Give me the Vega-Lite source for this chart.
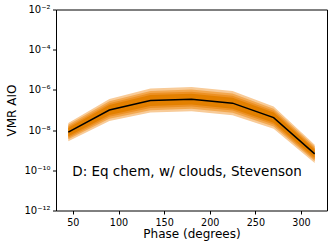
{
  "$schema": "https://vega.github.io/schema/vega-lite/v6.json",
  "width": 271,
  "height": 201,
  "autosize": {"type": "none"},
  "padding": {"left": 56, "top": 9.5, "right": 5, "bottom": 36.5},
  "config": {
    "font": "DejaVu Sans",
    "view": {"stroke": "#000", "strokeWidth": 1},
    "axis": {"grid": false, "domain": false, "tickColor": "#000", "labelColor": "#000", "titleColor": "#000", "titleFontWeight": "normal"}
  },
  "datasets": {
    "bands": [
      {"phase": 45, "median": 7.94e-9, "lo1": 2.82e-9, "hi1": 2.24e-8, "lo2": 3.47e-9, "hi2": 1.82e-8, "lo3": 4.17e-9, "hi3": 1.51e-8, "lo4": 5.01e-9, "hi4": 1.26e-8},
      {"phase": 90, "median": 1.0e-7, "lo1": 2.82e-8, "hi1": 3.55e-7, "lo2": 3.63e-8, "hi2": 2.75e-7, "lo3": 4.57e-8, "hi3": 2.19e-7, "lo4": 5.62e-8, "hi4": 1.78e-7},
      {"phase": 135, "median": 2.95e-7, "lo1": 7.41e-8, "hi1": 1.17e-6, "lo2": 9.77e-8, "hi2": 8.91e-7, "lo3": 1.26e-7, "hi3": 6.92e-7, "lo4": 1.58e-7, "hi4": 5.50e-7},
      {"phase": 180, "median": 3.47e-7, "lo1": 8.71e-8, "hi1": 1.38e-6, "lo2": 1.15e-7, "hi2": 1.05e-6, "lo3": 1.48e-7, "hi3": 8.13e-7, "lo4": 1.86e-7, "hi4": 6.46e-7},
      {"phase": 225, "median": 2.19e-7, "lo1": 5.50e-8, "hi1": 8.71e-7, "lo2": 7.24e-8, "hi2": 6.61e-7, "lo3": 9.33e-8, "hi3": 5.13e-7, "lo4": 1.17e-7, "hi4": 4.07e-7},
      {"phase": 270, "median": 4.17e-8, "lo1": 1.17e-8, "hi1": 1.48e-7, "lo2": 1.51e-8, "hi2": 1.15e-7, "lo3": 1.91e-8, "hi3": 9.12e-8, "lo4": 2.34e-8, "hi4": 7.41e-8},
      {"phase": 315, "median": 6.61e-10, "lo1": 2.34e-10, "hi1": 1.86e-9, "lo2": 2.88e-10, "hi2": 1.51e-9, "lo3": 3.47e-10, "hi3": 1.26e-9, "lo4": 4.17e-10, "hi4": 1.05e-9}
    ],
    "note": [
      {"phase": 49.3, "value": 8.1e-11, "label": "D: Eq chem, w/ clouds, Stevenson"}
    ]
  },
  "data": {"name": "bands"},
  "encoding": {
    "x": {
      "field": "phase", "type": "quantitative",
      "scale": {"domain": [31.5, 328.5], "nice": false, "zero": false},
      "axis": {"values": [50, 100, 150, 200, 250, 300], "title": "Phase (degrees)", "titleFontSize": 12, "labelFontSize": 9.6, "tickSize": 3.5, "labelBaseline": "alphabetic", "labelPadding": 11.5, "titleBaseline": "alphabetic", "titleY": 26.5, "labelFlush": false}
    }
  },
  "layer": [
    {
      "mark": {"type": "area", "color": "#f8cb98", "opacity": 1},
      "encoding": {
        "y": {"field": "lo1", "type": "quantitative", "scale": {"type": "log", "domain": [1e-12, 1e-2], "nice": false},
          "axis": {"values": [1e-12, 1e-10, 1e-8, 1e-6, 1e-4, 1e-2], "labelExpr": "round(log(datum.value)/LN10) == -12 ? '10⁻¹²' : round(log(datum.value)/LN10) == -10 ? '10⁻¹⁰' : round(log(datum.value)/LN10) == -8 ? '10⁻⁸' : round(log(datum.value)/LN10) == -6 ? '10⁻⁶' : round(log(datum.value)/LN10) == -4 ? '10⁻⁴' : '10⁻²'", "title": "VMR AIO", "titleFontSize": 12, "labelFontSize": 10, "tickSize": 3.5, "labelPadding": 2.5, "labelOverlap": false, "titleX": -41, "titleY": 100.5, "titleBaseline": "alphabetic", "titleAngle": -90, "titleAlign": "center"}},
        "y2": {"field": "hi1"}
      }
    },
    {
      "mark": {"type": "area", "color": "#f2a850", "opacity": 1},
      "encoding": {
        "y": {"field": "lo2", "type": "quantitative", "scale": {"type": "log", "domain": [1e-12, 1e-2], "nice": false},
          "axis": {"values": [1e-12, 1e-10, 1e-8, 1e-6, 1e-4, 1e-2], "labelExpr": "round(log(datum.value)/LN10) == -12 ? '10⁻¹²' : round(log(datum.value)/LN10) == -10 ? '10⁻¹⁰' : round(log(datum.value)/LN10) == -8 ? '10⁻⁸' : round(log(datum.value)/LN10) == -6 ? '10⁻⁶' : round(log(datum.value)/LN10) == -4 ? '10⁻⁴' : '10⁻²'", "title": "VMR AIO", "titleFontSize": 12, "labelFontSize": 10, "tickSize": 3.5, "labelPadding": 2.5, "labelOverlap": false, "titleX": -41, "titleY": 100.5, "titleBaseline": "alphabetic", "titleAngle": -90, "titleAlign": "center"}},
        "y2": {"field": "hi2"}
      }
    },
    {
      "mark": {"type": "area", "color": "#ec9125", "opacity": 1},
      "encoding": {
        "y": {"field": "lo3", "type": "quantitative", "scale": {"type": "log", "domain": [1e-12, 1e-2], "nice": false},
          "axis": {"values": [1e-12, 1e-10, 1e-8, 1e-6, 1e-4, 1e-2], "labelExpr": "round(log(datum.value)/LN10) == -12 ? '10⁻¹²' : round(log(datum.value)/LN10) == -10 ? '10⁻¹⁰' : round(log(datum.value)/LN10) == -8 ? '10⁻⁸' : round(log(datum.value)/LN10) == -6 ? '10⁻⁶' : round(log(datum.value)/LN10) == -4 ? '10⁻⁴' : '10⁻²'", "title": "VMR AIO", "titleFontSize": 12, "labelFontSize": 10, "tickSize": 3.5, "labelPadding": 2.5, "labelOverlap": false, "titleX": -41, "titleY": 100.5, "titleBaseline": "alphabetic", "titleAngle": -90, "titleAlign": "center"}},
        "y2": {"field": "hi3"}
      }
    },
    {
      "mark": {"type": "area", "color": "#e38000", "opacity": 1},
      "encoding": {
        "y": {"field": "lo4", "type": "quantitative", "scale": {"type": "log", "domain": [1e-12, 1e-2], "nice": false},
          "axis": {"values": [1e-12, 1e-10, 1e-8, 1e-6, 1e-4, 1e-2], "labelExpr": "round(log(datum.value)/LN10) == -12 ? '10⁻¹²' : round(log(datum.value)/LN10) == -10 ? '10⁻¹⁰' : round(log(datum.value)/LN10) == -8 ? '10⁻⁸' : round(log(datum.value)/LN10) == -6 ? '10⁻⁶' : round(log(datum.value)/LN10) == -4 ? '10⁻⁴' : '10⁻²'", "title": "VMR AIO", "titleFontSize": 12, "labelFontSize": 10, "tickSize": 3.5, "labelPadding": 2.5, "labelOverlap": false, "titleX": -41, "titleY": 100.5, "titleBaseline": "alphabetic", "titleAngle": -90, "titleAlign": "center"}},
        "y2": {"field": "hi4"}
      }
    },
    {
      "mark": {"type": "line", "color": "#000", "strokeWidth": 1.5},
      "encoding": {
        "y": {"field": "median", "type": "quantitative", "scale": {"type": "log", "domain": [1e-12, 1e-2], "nice": false},
          "axis": {"values": [1e-12, 1e-10, 1e-8, 1e-6, 1e-4, 1e-2], "labelExpr": "round(log(datum.value)/LN10) == -12 ? '10⁻¹²' : round(log(datum.value)/LN10) == -10 ? '10⁻¹⁰' : round(log(datum.value)/LN10) == -8 ? '10⁻⁸' : round(log(datum.value)/LN10) == -6 ? '10⁻⁶' : round(log(datum.value)/LN10) == -4 ? '10⁻⁴' : '10⁻²'", "title": "VMR AIO", "titleFontSize": 12, "labelFontSize": 10, "tickSize": 3.5, "labelPadding": 2.5, "labelOverlap": false, "titleX": -41, "titleY": 100.5, "titleBaseline": "alphabetic", "titleAngle": -90, "titleAlign": "center"}}
      }
    },
    {
      "data": {"name": "note"},
      "mark": {"type": "text", "align": "left", "baseline": "middle", "fontSize": 13.5, "color": "#000"},
      "encoding": {
        "y": {"field": "value", "type": "quantitative", "scale": {"type": "log", "domain": [1e-12, 1e-2], "nice": false},
          "axis": {"values": [1e-12, 1e-10, 1e-8, 1e-6, 1e-4, 1e-2], "labelExpr": "round(log(datum.value)/LN10) == -12 ? '10⁻¹²' : round(log(datum.value)/LN10) == -10 ? '10⁻¹⁰' : round(log(datum.value)/LN10) == -8 ? '10⁻⁸' : round(log(datum.value)/LN10) == -6 ? '10⁻⁶' : round(log(datum.value)/LN10) == -4 ? '10⁻⁴' : '10⁻²'", "title": "VMR AIO", "titleFontSize": 12, "labelFontSize": 10, "tickSize": 3.5, "labelPadding": 2.5, "labelOverlap": false, "titleX": -41, "titleY": 100.5, "titleBaseline": "alphabetic", "titleAngle": -90, "titleAlign": "center"}},
        "text": {"field": "label"}
      }
    }
  ]
}
